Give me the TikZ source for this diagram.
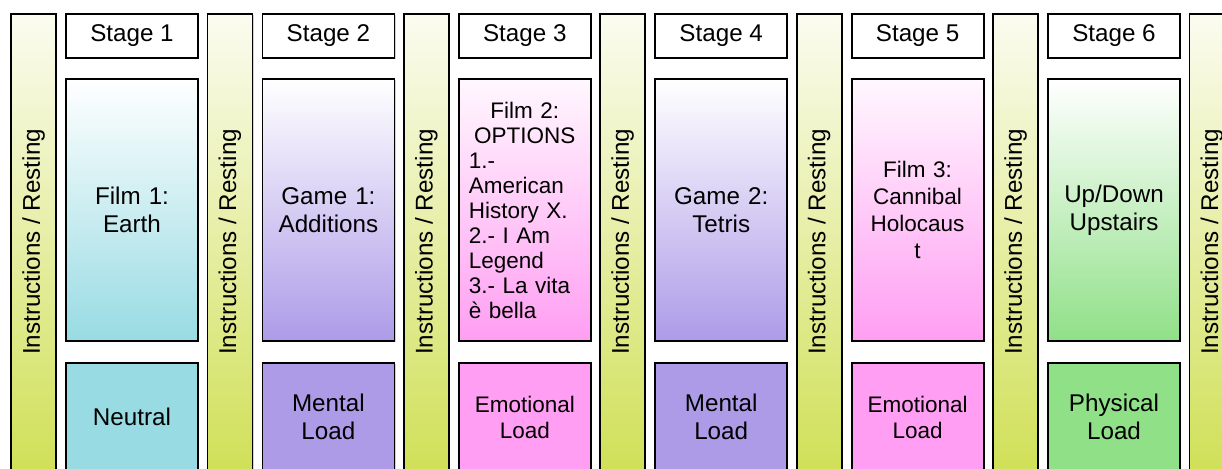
\documentclass[tikz,border=0pt]{standalone}
\usepackage{fontspec}
\setmainfont{Liberation Sans}
\usepackage{graphicx}
\usetikzlibrary{shadows}

\definecolor{barTop}{RGB}{251,252,240}
\definecolor{barBot}{RGB}{208,224,88}
\definecolor{neutralCol}{RGB}{152,219,227}
\definecolor{mentalCol}{RGB}{173,155,232}
\definecolor{emoCol}{RGB}{255,158,242}
\definecolor{physCol}{RGB}{144,224,136}

\newcommand{\bigtxt}  {\fontsize{24.2}{28.5}\selectfont}
\newcommand{\smalltxt}{\fontsize{22.5}{26}\selectfont}

\tikzset{
  boxline/.style={draw=black, line width=1.8pt,
    drop shadow={shadow xshift=1.2pt, shadow yshift=-1.2pt, opacity=0.35}},
  restbar/.style={boxline, minimum width=45, minimum height=456,
    top color=barTop, bottom color=barBot, inner sep=0pt, font=\bigtxt},
  stagebox/.style={boxline, fill=white, minimum width=132, minimum height=44, font=\bigtxt},
  taskbox/.style={boxline, minimum width=132, minimum height=262,
    text width=112, align=center, font=\bigtxt},
  loadbox/.style={boxline, minimum width=132, minimum height=108,
    text width=112, align=center, font=\bigtxt},
}

\begin{document}
\begin{tikzpicture}[x=1pt,y=-1pt]
      \useasboundingbox (0,0) rectangle (1222,468);
      \clip (0,0) rectangle (1222,468);
      % instruction / resting bars
      \node[restbar] (bar0) at (33.5,242)   {\rotatebox{90}{Instructions / Resting}};
      \node[restbar] (bar1) at (229.9,242)  {\rotatebox{90}{Instructions / Resting}};
      \node[restbar] (bar2) at (426.3,242)  {\rotatebox{90}{Instructions / Resting}};
      \node[restbar] (bar3) at (622.7,242)  {\rotatebox{90}{Instructions / Resting}};
      \node[restbar] (bar4) at (819.1,242)  {\rotatebox{90}{Instructions / Resting}};
      \node[restbar] (bar5) at (1015.5,242) {\rotatebox{90}{Instructions / Resting}};
      \node[restbar] (bar6) at (1211.9,242) {\rotatebox{90}{Instructions / Resting}};
      % stage titles
      \node[stagebox] (stage1) at (132,36)    {Stage 1};
      \node[stagebox] (stage2) at (328.4,36)  {Stage 2};
      \node[stagebox] (stage3) at (524.8,36)  {Stage 3};
      \node[stagebox] (stage4) at (721.2,36)  {Stage 4};
      \node[stagebox] (stage5) at (917.6,36)  {Stage 5};
      \node[stagebox] (stage6) at (1114,36)   {Stage 6};
      % tasks
      \node[taskbox, top color=white, bottom color=neutralCol] (task1) at (132,210)
           {Film 1:\\Earth};
      \node[taskbox, top color=white, bottom color=mentalCol] (task2) at (328.4,210)
           {Game 1:\\Additions};
      \node[taskbox, top color=emoCol!8, bottom color=emoCol, align=left,
            font=\fontsize{22.5}{25}\selectfont] (task3) at (524.8,210)
           {{\centering Film 2:\\OPTIONS\par}1.-\\American\\History X.\\2.- I Am\\Legend\\3.- La vita\\è bella};
      \node[taskbox, top color=white, bottom color=mentalCol] (task4) at (721.2,210)
           {Game 2:\\Tetris};
      \node[taskbox, top color=emoCol!8, bottom color=emoCol, font=\fontsize{22.5}{27}\selectfont] (task5) at (917.6,210)
           {Film 3:\\Cannibal\\Holocaus\\t};
      \node[taskbox, top color=white, bottom color=physCol] (task6) at (1114,210)
           {Up/Down\\Upstairs};
      % load type
      \node[loadbox, fill=neutralCol] (load1) at (132,417)    {Neutral};
      \node[loadbox, fill=mentalCol]  (load2) at (328.4,417)  {Mental\\Load};
      \node[loadbox, fill=emoCol, font=\smalltxt] (load3) at (524.8,417)  {Emotional\\Load};
      \node[loadbox, fill=mentalCol]  (load4) at (721.2,417)  {Mental\\Load};
      \node[loadbox, fill=emoCol, font=\smalltxt] (load5) at (917.6,417)  {Emotional\\Load};
      \node[loadbox, fill=physCol]    (load6) at (1114,417)   {Physical\\Load};
\end{tikzpicture}
\end{document}
